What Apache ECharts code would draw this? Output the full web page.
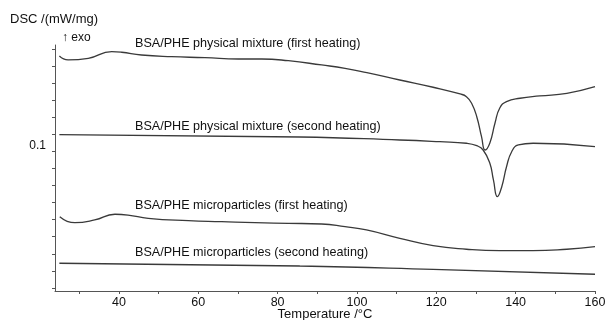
<!DOCTYPE html>
<html>
<head>
<meta charset="utf-8">
<script src="https://cdn.jsdelivr.net/npm/echarts@6/dist/echarts.min.js"></script>
<style>
html,body{margin:0;padding:0;background:#fff;}
#chart{width:605px;height:320px;}
</style>
</head>
<body>
<div id="chart"></div>
<script>
// Physical mixture, first heating
const tempPMFirst = [25, 27.2, 32.3, 38.2, 40.7, 45.7, 53.3, 61.7, 70.1, 76.0, 82.7, 91.1, 97.0, 102.5, 110.8, 119.2, 126.0, 127.6, 128.9, 130.2, 131.4, 132.3, 133.5, 134.8, 136.0, 137.7, 141.1, 146.1, 152.9, 160];
const dscPMFirst  = [0.1917, 0.1871, 0.1890, 0.1968, 0.1961, 0.1929, 0.1909, 0.1898, 0.1882, 0.1882, 0.1862, 0.1812, 0.1773, 0.1722, 0.1636, 0.1551, 0.1472, 0.1441, 0.1363, 0.1206, 0.0972, 0.0816, 0.0898, 0.1132, 0.1308, 0.1382, 0.1422, 0.1449, 0.1480, 0.1558];
// Physical mixture, second heating
const tempPMSecond = [25, 85.6, 110.8, 120.9, 127.6, 130.2, 131.8, 133.5, 134.4, 135.4, 136.5, 137.7, 139.0, 140.7, 144.4, 160];
const dscPMSecond  = [0.0995, 0.0968, 0.0933, 0.0913, 0.0895, 0.0866, 0.0816, 0.0660, 0.0465, 0.0269, 0.0386, 0.0620, 0.0796, 0.0875, 0.0895, 0.0855];
// Microparticles, first heating
const tempMPFirst = [25.1, 28.9, 33.9, 39.0, 42.3, 47.4, 57.5, 65.9, 74.3, 82.7, 91.1, 97.0, 102.4, 110.8, 119.2, 127.6, 136.0, 144.4, 152.9, 160];
const dscMPFirst  = [0.0035, -0.0036, -0.0004, 0.0063, 0.0054, 0.0016, -0.0012, -0.0024, -0.0036, -0.0043, -0.0051, -0.0083, -0.0121, -0.0219, -0.0305, -0.0347, -0.0364, -0.0364, -0.0347, -0.0317];
// Microparticles, second heating
const tempMPSecond = [25, 85.6, 119.2, 160];
const dscMPSecond  = [-0.0511, -0.0543, -0.0582, -0.0640];

const seriesNames = [
  'BSA/PHE physical mixture (first heating)',
  'BSA/PHE physical mixture (second heating)',
  'BSA/PHE microparticles (first heating)',
  'BSA/PHE microparticles (second heating)'
];
const xTickValues = [30, 40, 50, 60, 70, 80, 90, 100, 110, 120, 130, 140, 150, 160];
const xLabelValues = [40, 60, 80, 100, 120, 140, 160];
const yTickValues = [-0.08, -0.06, -0.04, -0.02, 0, 0.02, 0.04, 0.06, 0.08, 0.1, 0.12, 0.14, 0.16, 0.18, 0.2];
const yLabelValues = [0.1];
const yAxisTitle = 'DSC /(mW/mg)';
const exoLabel = '↑ exo';
const xAxisTitle = 'Temperature /°C';

const FONT = 'Liberation Sans, Arial, sans-serif';
const chart = echarts.init(document.getElementById('chart'), null, {renderer: 'canvas'});

function pairs(xs, ys) { return xs.map((x, i) => [x, ys[i]]); }
const curves = [[tempPMFirst, dscPMFirst], [tempPMSecond, dscPMSecond], [tempMPFirst, dscMPFirst], [tempMPSecond, dscMPSecond]];
const labelY = [44.5, 128, 207, 253.5];

chart.setOption({
  animation: false,
  backgroundColor: '#fff',
  grid: {left: 55, right: 10, top: 45, bottom: 29, containLabel: false, outerBoundsMode: 'none'},
  xAxis: {
    type: 'value', min: 23.9, max: 160,
    name: xAxisTitle, nameLocation: 'middle', nameGap: 17, nameMoveOverlap: false,
    nameTextStyle: {color: '#111', fontSize: 13, fontFamily: FONT},
    axisLine: {show: true, onZero: false, lineStyle: {color: '#555', width: 1}},
    axisTick: {show: true, length: 3, customValues: xTickValues, lineStyle: {color: '#555'}},
    axisLabel: {show: true, customValues: xLabelValues, margin: 5, color: '#111', fontSize: 12.5, fontFamily: FONT},
    splitLine: {show: false}
  },
  yAxis: {
    type: 'value', min: -0.0836, max: 0.2046,
    axisLine: {show: true, onZero: false, lineStyle: {color: '#555', width: 1}},
    axisTick: {show: true, length: 3, customValues: yTickValues, lineStyle: {color: '#555'}},
    axisLabel: {show: true, customValues: yLabelValues, margin: 9, color: '#111', fontSize: 12, fontFamily: FONT,
      verticalAlign: 'top', padding: [5, 0, 0, 0], formatter: v => String(v)},
    splitLine: {show: false}
  },
  graphic: [
    {type: 'text', left: 10, top: 13, style: {text: yAxisTitle, fill: '#111', font: '13px ' + FONT}},
    {type: 'text', left: 62, top: 32, style: {text: exoLabel, fill: '#111', font: '12px ' + FONT}}
  ].concat(seriesNames.map((n, i) => ({
    type: 'text', left: 135, top: labelY[i] - 7.5,
    style: {text: n, fill: '#111', font: '12.6px ' + FONT}
  }))),
  series: curves.map((c, i) => ({
    name: seriesNames[i],
    type: 'line',
    data: pairs(c[0], c[1]),
    showSymbol: false,
    smooth: 0.5,
    lineStyle: {color: '#3a3a3a', width: 1.3},
    z: 3
  }))
});
</script>
</body>
</html>
